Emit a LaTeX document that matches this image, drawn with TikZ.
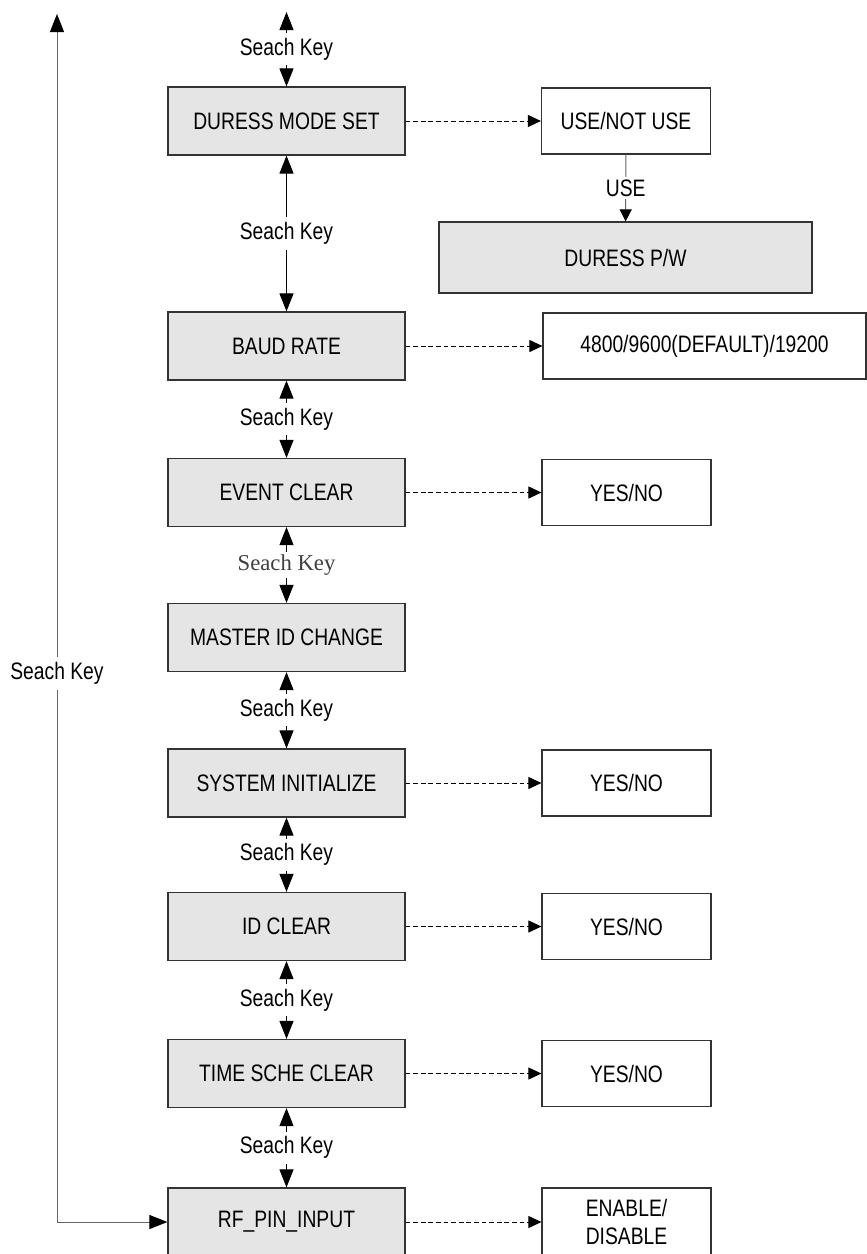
\documentclass[tikz,border=0pt]{standalone}
\usepackage{fontspec}
\setmainfont{Liberation Sans}[FakeStretch=0.81]
\newfontfamily\keyserif{Liberation Serif}
\usetikzlibrary{arrows.meta}
\tikzset{menu/.style = {draw=black!80, fill=black!10, line width=0.6pt,
                        minimum width=118.5pt, minimum height=34pt, inner sep=0,
                        font=\fontsize{11.9}{14}\selectfont}}
\tikzset{choice/.style = {menu, fill=white, minimum width=84.5pt, minimum height=33pt}}
\tikzset{key/.style = {{Triangle[length=9pt, width=7pt, color=black]}-{Triangle[length=9pt, width=7pt, color=black]},
                       line width=0.5pt}}
\tikzset{opt/.style = {-{Triangle[length=6.5pt, width=6pt]}, line width=0.5pt,
                       dash pattern=on 2.4pt off 1.4pt}}
\tikzset{lbl/.style = {fill=white, inner sep=2.5pt, font=\fontsize{11.9}{14}\selectfont}}

\begin{document}
\begin{tikzpicture}[x=0.5pt, y=-0.5pt]
  \useasboundingbox (0,0) rectangle (867,1254);
  % main menu column
  \node [menu] (duress) at (286.5, 121) {DURESS MODE SET};
  \node [menu] (baud) at (286.5, 346) {BAUD RATE};
  \node [menu] (event) at (286.5, 492.5) {EVENT CLEAR};
  \node [menu] (master) at (286.5, 637.5) {MASTER ID CHANGE};
  \node [menu] (sysinit) at (286.5, 783) {SYSTEM INITIALIZE};
  \node [menu] (idclear) at (286.5, 926.5) {ID CLEAR};
  \node [menu] (timesche) at (286.5, 1073.5) {TIME SCHE CLEAR};
  \node [menu] (rfpin) at (286.5, 1222) {RF\_PIN\_INPUT};
  % settings
  \node [choice] (usenot) at (626, 121) {USE/NOT USE};
  \node [menu, minimum width=186.5pt, minimum height=35.5pt] (duresspw) at (625.5, 257.5) {DURESS P/W};
  \node [choice, minimum width=161.5pt] (rate) at (704.5, 346) {4800/9600(DEFAULT)/19200};
  \node [choice] (evyes) at (626.5, 492.5) {YES/NO};
  \node [choice] (sysyes) at (626.5, 783) {YES/NO};
  \node [choice] (idyes) at (626.5, 926.5) {YES/NO};
  \node [choice] (timeyes) at (626.5, 1073.5) {YES/NO};
  \node [choice, minimum height=34pt, align=center] (rfyes) at (626.5, 1222) {ENABLE/\\DISABLE};

  \coordinate (top) at (286.5, 12);
  \coordinate (looptop) at (57, 14);
  \draw [key] (top) -- node [lbl] {Seach Key} (duress);
  \foreach \a/\b in {duress/baud, baud/event, master/sysinit, sysinit/idclear,
                     idclear/timesche, timesche/rfpin}
    \draw [key] (\a) -- node [lbl] {Seach Key} (\b);
  \draw [key] (event) -- node [lbl, text=black!75, inner sep=1.5pt,
                               font=\keyserif\fontsize{11.35}{13}\selectfont] {Seach Key} (master);
  \draw [key, draw=black!60] (looptop) -- node [lbl, pos=0.546] {Seach Key}
        (looptop |- rfpin.west) -- (rfpin.west);

  \draw [opt] (duress) -- (usenot);
  \draw [opt] (baud) -- (rate);
  \draw [opt] (event) -- (evyes);
  \draw [opt] (sysinit) -- (sysyes);
  \draw [opt] (idclear) -- (idyes);
  \draw [opt] (timesche) -- (timeyes);
  \draw [opt] (rfpin) -- (rfyes);
  \draw [-{Triangle[length=6pt, width=6pt, color=black]}, line width=0.5pt, draw=black!60]
        (usenot) -- node [lbl, inner sep=1.5pt] {USE} (duresspw);
\end{tikzpicture}
\end{document}
